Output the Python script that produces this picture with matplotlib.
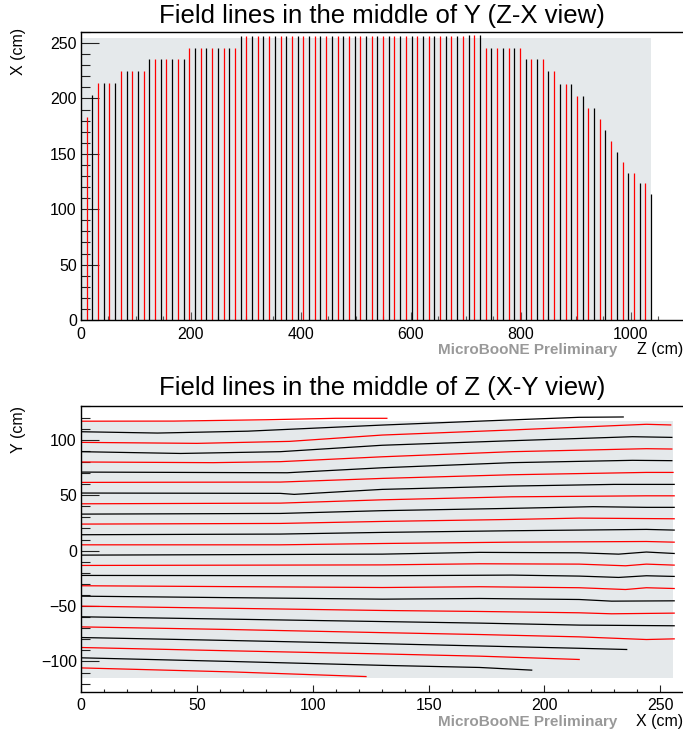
import matplotlib
matplotlib.use("Agg")
import matplotlib.pyplot as plt
from matplotlib.patches import Rectangle
from matplotlib.ticker import MultipleLocator

plt.rcParams['font.family'] = ['Liberation Sans', 'DejaVu Sans']

# ---------------- data: Z-X view (top) ----------------
zx_line_z = [10.4, 20.7, 31.1, 41.5, 51.8, 62.2, 72.6, 82.9, 93.3, 103.7,
             114.0, 124.4, 134.8, 145.2, 155.5, 165.9, 176.3, 186.6, 197.0, 207.4,
             217.7, 228.1, 238.5, 248.8, 259.2, 269.6, 279.9, 290.3, 300.7, 311.0,
             321.4, 331.8, 342.1, 352.5, 362.9, 373.2, 383.6, 394.0, 404.4, 414.7,
             425.1, 435.5, 445.8, 456.2, 466.6, 476.9, 487.3, 497.7, 508.0, 518.4,
             528.8, 539.1, 549.5, 559.9, 570.2, 580.6, 591.0, 601.3, 611.7, 622.1,
             632.4, 642.8, 653.2, 663.6, 673.9, 684.3, 694.7, 705.0, 715.4, 725.8,
             736.1, 746.5, 756.9, 767.2, 777.6, 788.0, 798.3, 808.7, 819.1, 829.4,
             839.8, 850.2, 860.5, 870.9, 881.3, 891.6, 902.0, 912.4, 922.8, 933.1,
             943.5, 953.9, 964.2, 974.6, 985.0, 995.3, 1005.7, 1016.1, 1026.4, 1036.8]
zx_line_top = [183.0, 203.5, 213.8, 213.8, 213.8, 213.8, 224.5, 224.5, 224.5, 224.5,
               224.5, 235.2, 235.2, 235.2, 235.2, 235.2, 235.2, 235.2, 245.8, 245.8,
               245.8, 245.8, 245.8, 245.8, 245.8, 245.8, 245.8, 256.3, 256.3, 256.3,
               256.3, 256.3, 256.3, 256.3, 256.3, 256.3, 256.3, 256.3, 256.3, 256.3,
               256.3, 256.3, 256.3, 256.3, 256.3, 256.3, 256.3, 256.3, 256.3, 256.3,
               256.3, 256.3, 256.3, 256.3, 256.3, 256.3, 256.3, 256.3, 256.3, 256.3,
               256.3, 256.3, 256.3, 256.3, 256.3, 256.3, 256.3, 257.5, 257.5, 257.5,
               245.5, 245.5, 245.5, 245.5, 245.5, 245.5, 246.0, 235.2, 235.2, 235.2,
               235.2, 224.5, 224.5, 213.3, 213.3, 213.3, 202.0, 202.0, 191.5, 191.5,
               181.6, 171.6, 161.7, 152.0, 142.4, 133.0, 133.0, 123.6, 123.6, 113.5]
zx_tpc_z = 1036.8
zx_tpc_x = 255.0

# ---------------- data: X-Y view (bottom) ----------------
xy_line_x = [
    [0, 40, 80, 110, 132],
    [0, 33, 72, 130, 175, 215, 234],
    [0, 50, 90, 130, 186, 244, 254.5],
    [0, 43, 86, 130, 186, 238, 255],
    [0, 57, 86, 130, 186, 244, 255],
    [0, 89, 130, 186, 238, 255],
    [0, 86, 130, 186, 244, 255.5],
    [0, 86, 92, 130, 186, 230, 256],
    [0, 86, 130, 186, 244, 256],
    [0, 86, 130, 186, 221, 244, 256],
    [0, 86, 130, 186, 215, 256],
    [0, 86, 130, 186, 244, 256],
    [0, 86, 130, 186, 244, 256],
    [0, 130, 172, 215, 232, 244, 256],
    [0, 130, 172, 215, 235, 244, 256],
    [0, 130, 186, 215, 232, 244, 256],
    [0, 130, 172, 215, 235, 244, 256],
    [0, 130, 172, 215, 229, 256],
    [0, 130, 172, 215, 229, 256],
    [0, 130, 172, 215, 256],
    [0, 65, 130, 172, 215, 244, 256],
    [0, 65, 130, 172, 215, 235.5],
    [0, 65, 130, 172, 215],
    [0, 65, 130, 172, 194.5],
    [0, 65, 123],
]
xy_line_y = [
    [116.7, 116.8, 118.0, 119.3, 119.3],
    [107.2, 106.0, 107.7, 113.2, 117.0, 120.2, 120.5],
    [97.6, 96.7, 98.5, 104.2, 108.8, 113.9, 113.3],
    [89.2, 87.6, 89.2, 95.0, 99.1, 102.7, 102.1],
    [79.9, 79.3, 80.2, 84.6, 89.2, 91.9, 91.6],
    [70.8, 70.2, 74.7, 79.3, 81.4, 81.1],
    [61.5, 61.8, 65.1, 68.4, 70.5, 70.5],
    [51.9, 51.6, 50.7, 55.2, 58.2, 59.7, 59.7],
    [42.2, 42.8, 45.8, 48.5, 49.4, 49.4],
    [32.9, 33.5, 36.0, 38.1, 39.6, 39.0, 39.0],
    [23.9, 24.5, 26.3, 28.1, 29.3, 28.7],
    [14.3, 14.9, 16.4, 17.9, 19.1, 18.5],
    [5.2, 5.2, 6.4, 7.6, 8.2, 7.6],
    [-4.1, -3.2, -1.6, -2.0, -3.2, -1.3, -2.6],
    [-13.4, -12.9, -11.9, -12.2, -13.7, -12.2, -13.1],
    [-22.4, -22.7, -22.1, -23.0, -24.2, -22.7, -23.3],
    [-31.7, -33.3, -32.6, -33.5, -35.1, -33.5, -34.2],
    [-41.1, -43.8, -43.2, -44.1, -45.6, -45.3],
    [-50.1, -54.0, -54.9, -56.1, -57.0, -56.4],
    [-59.7, -64.0, -65.4, -67.2, -67.8],
    [-68.8, -71.2, -74.0, -75.7, -77.8, -80.2, -79.6],
    [-78.4, -81.1, -84.0, -86.0, -88.1, -89.2],
    [-87.4, -90.4, -93.2, -95.2, -98.2],
    [-96.7, -100.0, -103.5, -105.4, -107.8],
    [-105.8, -109.4, -113.6],
]
xy_tpc_x = 255.4
xy_tpc_ylo = -115.0
xy_tpc_yhi = 116.8

# ---------------- style ----------------
W, H = 683, 736
BG = '#e5e9eb'
RED = '#ff0000'
BLK = '#000000'
TICK_FS = 11.5

fig = plt.figure(figsize=(W / 100, H / 100), dpi=100)
ax1 = fig.add_axes([81 / W, (H - 320) / H, 602 / W, 288 / H])
ax2 = fig.add_axes([81 / W, (H - 692.3) / H, 602 / W, 286.3 / H])

# top plot
ax1.add_patch(Rectangle((0, 0), zx_tpc_z, zx_tpc_x, facecolor=BG, edgecolor='none', zorder=0))
cols1 = [RED if i % 2 == 0 else BLK for i in range(len(zx_line_z))]
ax1.vlines(zx_line_z, 0, zx_line_top, colors=cols1, linewidth=0.9, zorder=2)
ax1.set_xlim(0, 1095)
ax1.set_ylim(0, 260)
ax1.xaxis.set_major_locator(MultipleLocator(200))
ax1.xaxis.set_minor_locator(MultipleLocator(50))
ax1.yaxis.set_major_locator(MultipleLocator(50))
ax1.yaxis.set_minor_locator(MultipleLocator(10))
ax1.tick_params(axis='x', which='major', direction='in', length=5.8, width=0.8,
                color='#555555', pad=5, labelsize=TICK_FS)
ax1.tick_params(axis='x', which='minor', direction='in', length=2.9, width=0.8, color='#555555')
ax1.tick_params(axis='y', which='major', direction='in', length=13, width=0.8,
                color='#222222', pad=3, labelsize=TICK_FS)
ax1.tick_params(axis='y', which='minor', direction='in', length=6.5, width=0.8, color='#222222')

# bottom plot
ax2.add_patch(Rectangle((0, xy_tpc_ylo), xy_tpc_x, xy_tpc_yhi - xy_tpc_ylo,
                        facecolor=BG, edgecolor='none', zorder=0))
for i, (xs, ys) in enumerate(zip(xy_line_x, xy_line_y)):
    ax2.plot(xs, ys, color=RED if i % 2 == 0 else BLK, linewidth=0.9, zorder=2)
ax2.set_xlim(0, 259.8)
ax2.set_ylim(-127.8, 130.4)
ax2.xaxis.set_major_locator(MultipleLocator(50))
ax2.xaxis.set_minor_locator(MultipleLocator(10))
ax2.yaxis.set_major_locator(MultipleLocator(50))
ax2.yaxis.set_minor_locator(MultipleLocator(10))
ax2.tick_params(axis='x', which='major', direction='in', length=5, width=0.8,
                color='#222222', pad=4, labelsize=TICK_FS)
ax2.tick_params(axis='x', which='minor', direction='in', length=2.5, width=0.8, color='#222222')
ax2.tick_params(axis='y', which='major', direction='in', length=13, width=0.8,
                color='#222222', pad=3, labelsize=TICK_FS)
ax2.tick_params(axis='y', which='minor', direction='in', length=6.5, width=0.8, color='#222222')

for ax in (ax1, ax2):
    ax.set_facecolor('white')
    ax.spines['right'].set_visible(False)
    for s in ('left', 'top', 'bottom'):
        ax.spines[s].set_linewidth(1.0)
        ax.spines[s].set_color('black')

# texts
fig.text(382 / W, 1 - 23 / H, 'Field lines in the middle of Y (Z-X view)',
         ha='center', va='baseline', fontsize=18.5)
fig.text(382 / W, 1 - 395 / H, 'Field lines in the middle of Z (X-Y view)',
         ha='center', va='baseline', fontsize=18.5)
fig.text(19 / W, 1 - 28 / H, 'X (cm)', rotation=90, ha='center', va='top', fontsize=TICK_FS)
fig.text(19 / W, 1 - 406 / H, 'Y (cm)', rotation=90, ha='center', va='top', fontsize=TICK_FS)
fig.text(1.0, 1 - 354 / H, 'Z (cm)', ha='right', va='baseline', fontsize=TICK_FS)
fig.text(617 / W, 1 - 354 / H, 'MicroBooNE Preliminary', ha='right', va='baseline',
         fontsize=11, fontweight='bold', color='#999999')
fig.text(1.0, 1 - 725.7 / H, 'X (cm)', ha='right', va='baseline', fontsize=TICK_FS)
fig.text(617 / W, 1 - 725.7 / H, 'MicroBooNE Preliminary', ha='right', va='baseline',
         fontsize=11, fontweight='bold', color='#999999')

fig.savefig('out.png', dpi=100)
